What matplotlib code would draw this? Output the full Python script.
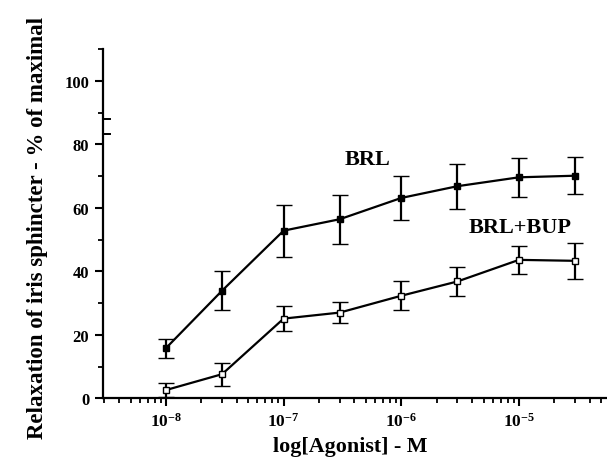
import matplotlib
matplotlib.use("Agg")
import matplotlib.pyplot as plt
from matplotlib.ticker import FixedLocator, MultipleLocator, LogLocator, NullFormatter
import matplotlib.transforms as mtrans

plt.rcParams['font.family'] = ['Liberation Serif', 'DejaVu Serif']
plt.rcParams['font.weight'] = 'bold'
plt.rcParams['mathtext.fontset'] = 'custom'
plt.rcParams['mathtext.rm'] = 'Liberation Serif:bold'
plt.rcParams['mathtext.it'] = 'Liberation Serif:bold'
plt.rcParams['mathtext.bf'] = 'Liberation Serif:bold'

# Data
concentration = [1e-8, 3e-8, 1e-7, 3e-7, 1e-6, 3e-6, 1e-5, 3e-5]
brl_mean = [15.8, 33.9, 52.8, 56.4, 63.1, 66.8, 69.6, 70.1]
brl_err = [3.0, 6.2, 8.2, 7.7, 7.0, 7.1, 6.2, 5.8]
bup_mean = [2.6, 7.6, 25.1, 27.0, 32.3, 36.8, 43.6, 43.3]
bup_err = [2.3, 3.6, 4.0, 3.4, 4.6, 4.5, 4.3, 5.6]

x_major_ticks = [1e-8, 1e-7, 1e-6, 1e-5]
x_major_labels = [r'$\mathbf{10^{-8}}$', r'$\mathbf{10^{-7}}$', r'$\mathbf{10^{-6}}$', r'$\mathbf{10^{-5}}$']
y_major_ticks = [0, 20, 40, 60, 80, 100]
y_major_labels = ['0', '20', '40', '60', '80', '100']

fig = plt.figure(figsize=(6.07, 4.64), dpi=100)
ax = fig.add_axes([0.170, 0.1394, 0.830, 0.7528])

common = dict(color='black', linewidth=1.6, elinewidth=1.6, capsize=5.5, capthick=1.6,
              marker='s', markersize=5, markeredgewidth=1.0, markeredgecolor='black')
ax.errorbar(concentration, brl_mean, yerr=brl_err, markerfacecolor='black', **common)
ax.errorbar(concentration, bup_mean, yerr=bup_err, markerfacecolor='white', **common)

ax.set_xscale('log')
ax.set_xlim(2.93e-9, 5.6e-5)
ax.set_ylim(0, 110)

ax.xaxis.set_major_locator(FixedLocator(x_major_ticks))
ax.set_xticklabels(x_major_labels, fontsize=12.5)
ax.xaxis.set_minor_locator(LogLocator(base=10, subs=[2, 3, 4, 5, 6, 7, 8, 9]))
ax.xaxis.set_minor_formatter(NullFormatter())

ax.yaxis.set_major_locator(FixedLocator(y_major_ticks))
ax.set_yticklabels(y_major_labels, fontsize=12, fontweight='bold')
ax.yaxis.set_minor_locator(MultipleLocator(10))

ax.tick_params(which='major', direction='out', length=6, width=1.5, pad=4)
ax.tick_params(which='minor', direction='out', length=3.5, width=1.3)

for side in ['top', 'right']:
    ax.spines[side].set_visible(False)
for side in ['left', 'bottom']:
    ax.spines[side].set_linewidth(1.6)

# axis break marks on the y axis
trans = mtrans.blended_transform_factory(ax.transAxes, ax.transData)
ax.plot([0.0, 0.014], [88.1, 88.1], transform=trans, color='black', linewidth=1.4,
        clip_on=False, zorder=6)
ax.plot([0.0, 0.014], [83.1, 83.1], transform=trans, color='black', linewidth=1.4,
        clip_on=False, zorder=6)

ax.text(3.3e-7, 75.3, 'BRL', fontsize=16, fontweight='bold', ha='left', va='center')
ax.text(3.75e-6, 54.0, 'BRL+BUP', fontsize=16, fontweight='bold', ha='left', va='center')

fig.text(0.062, 0.508, 'Relaxation of iris sphincter - % of maximal', rotation=90,
         fontsize=16.5, fontweight='bold', ha='center', va='center')
fig.text(0.577, 0.036, 'log[Agonist] - M', fontsize=15.8, fontweight='bold',
         ha='center', va='center')

fig.savefig('out.png', dpi=100)
